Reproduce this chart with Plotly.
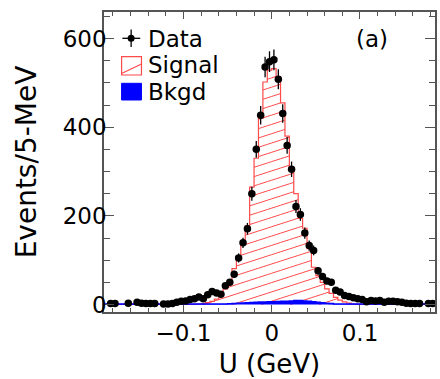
import math
import plotly.graph_objects as go

# ---------------- data ----------------
BIN_WIDTH = 0.005
U_FIRST_CENTER = -0.1875
N_BINS = 75
U_CENTERS = [round(U_FIRST_CENTER + i * BIN_WIDTH, 4) for i in range(N_BINS)]

DATA_COUNTS = [
    None, 2, 2, None, None, 3, None, 5, 3, 2,
    2, 2, None, 1, 1, 2, 5, 7, 8, 11,
    13, 17, 13, 22, 29, 26, 23, 42, 50, 68,
    105, 139, 171, 250, 350, 427, 536, 548, 552, 508,
    431, 359, 305, 221, 203, 161, 133, 122, 76, 63,
    53, 50, 32, 28, 20, 18, 15, 13, 11, 6,
    9, 8, 9, 5, 7, 7, 6, 5, 3, 2,
    2, 2, None, 2, 2,
]

SIGNAL_COUNTS = [
    0, 0, 0, 0, 0, 0, 0, 0, 0, 0,
    0, 0, 0, 0, 0, 0, 0, 0, 0, 0,
    0, 1, 2, 4, 7, 12, 20, 35, 54, 81,
    107, 141, 178, 265, 330, 420, 502, 529, 532, 514,
    455, 380, 303, 250, 194, 172, 126, 84, 65, 50,
    35, 25, 16, 10, 6, 3, 1, 0, 0, 0,
    0, 0, 0, 0, 0, 0, 0, 0, 0, 0,
    0, 0, 0, 0, 0,
]

BKGD_COUNTS = [
    1, 1, 1, 1, 1, 1, 1, 1, 1, 1,
    1, 1, 1, 1, 1, 1, 1, 1, 1, 1,
    1, 1, 1, 1, 1, 1, 1, 1, 1.5, 2,
    3, 3.5, 4, 4.5, 5, 5.5, 5.5, 6, 6, 6.5,
    7, 7.5, 8, 9, 9, 8, 7, 6, 5, 4,
    3, 2, 1, 1, 1, 1, 1, 1, 1, 1,
    1, 1, 1, 1, 1, 1, 1, 1, 1, 1,
    1, 1, 1, 1, 1,
]

X_TICKS = [-0.1, 0.0, 0.1]
X_TICK_TEXT = ["\u22120.1", "0", "0.1"]
Y_TICKS = [0, 200, 400, 600]
Y_TICK_TEXT = ["0", "200", "400", "600"]

X_RANGE = [-0.19, 0.185]
Y_RANGE = [-17, 660]

# hatch style (slope in events per GeV, spacing in events)
HATCH_SLOPE = 641.0
HATCH_SPACING = 21.0

# ---------------- helpers ----------------
def bin_edges():
    return [round(c - BIN_WIDTH / 2, 5) for c in U_CENTERS] + [round(U_CENTERS[-1] + BIN_WIDTH / 2, 5)]

def step_xy(values):
    ys = list(values) + [values[-1]]
    return bin_edges(), ys

def hatch_xy(values, slope, spacing):
    edges = bin_edges()
    ymax = max(values)
    c_min = -slope * X_RANGE[1]
    c_max = ymax - slope * X_RANGE[0]
    hx, hy = [], []
    c = c_min
    while c <= c_max:
        for i, h in enumerate(values):
            if h <= 0:
                continue
            a, b = edges[i], edges[i + 1]
            lo = max(a, (0 - c) / slope)
            hi = min(b, (h - c) / slope)
            if hi > lo:
                hx += [lo, hi, None]
                hy += [slope * lo + c, slope * hi + c, None]
        c += spacing
    return hx, hy

FONT = "DejaVu Sans, Liberation Sans, Arial, sans-serif"
RED = "#ff4a4a"
BLUE = "#0000ff"

fig = go.Figure()

hx, hy = hatch_xy(SIGNAL_COUNTS, HATCH_SLOPE, HATCH_SPACING)
fig.add_trace(go.Scatter(
    x=hx, y=hy, mode="lines", line=dict(color=RED, width=1),
    showlegend=False, hoverinfo="skip", connectgaps=False,
))

sx, sy = step_xy(SIGNAL_COUNTS)
fig.add_trace(go.Scatter(
    x=sx, y=sy, mode="lines", line=dict(color=RED, width=1.2, shape="hv"),
    showlegend=False, hoverinfo="skip",
))

bx, by = step_xy(BKGD_COUNTS)
fig.add_trace(go.Scatter(
    x=bx, y=by, mode="lines", line=dict(color=BLUE, width=1.5, shape="hv"),
    fill="tozeroy", fillcolor=BLUE, showlegend=False, hoverinfo="skip",
))

xs = [u for u, n in zip(U_CENTERS, DATA_COUNTS) if n is not None]
ys = [n for n in DATA_COUNTS if n is not None]
errs = [math.sqrt(n) for n in ys]
fig.add_trace(go.Scatter(
    x=xs, y=ys, mode="markers",
    marker=dict(color="black", size=7.5, symbol="circle"),
    error_y=dict(type="data", array=errs, visible=True, color="black", thickness=1.3, width=0),
    showlegend=False,
))

# ---------------- layout ----------------
L, R, T, B = 104, 3, 12, 67
W, H = 440, 379
pw, ph = W - L - R, H - T - B

def px(x):
    return (x - L) / pw

def py(y):
    return (H - B - y) / ph

AXCOL = "#555555"
shapes = [
    # legend: Data cross
    dict(type="line", xref="paper", yref="paper", x0=px(122.5), x1=px(140.5), y0=py(38.3), y1=py(38.3), line=dict(color="black", width=1.3)),
    dict(type="line", xref="paper", yref="paper", x0=px(131.3), x1=px(131.3), y0=py(29.5), y1=py(47), line=dict(color="black", width=1.3)),
    dict(type="circle", xref="paper", yref="paper", x0=px(127.8), x1=px(134.8), y0=py(41.8), y1=py(34.8), fillcolor="black", line=dict(color="black", width=0)),
    # legend: Signal box
    dict(type="rect", xref="paper", yref="paper", x0=px(121.7), x1=px(141.7), y0=py(75), y1=py(56.7), line=dict(color=RED, width=1.2)),
    dict(type="line", xref="paper", yref="paper", x0=px(121.7), x1=px(141.7), y0=py(73.5), y1=py(64), line=dict(color=RED, width=1.2)),
    # legend: Bkgd box
    dict(type="rect", xref="paper", yref="paper", x0=px(121.7), x1=px(141.7), y0=py(100), y1=py(83.3), fillcolor=BLUE, line=dict(color=BLUE, width=1)),
]

annotations = [
    dict(text="Data", xref="paper", yref="paper", x=px(146), y=py(38.5), xanchor="left", yanchor="middle", showarrow=False, font=dict(size=23, color="black", family=FONT)),
    dict(text="Signal", xref="paper", yref="paper", x=px(146), y=py(65), xanchor="left", yanchor="middle", showarrow=False, font=dict(size=23, color="black", family=FONT)),
    dict(text="Bkgd", xref="paper", yref="paper", x=px(146), y=py(92), xanchor="left", yanchor="middle", showarrow=False, font=dict(size=23, color="black", family=FONT)),
    dict(text="(a)", xref="paper", yref="paper", x=px(374), y=py(38.5), xanchor="center", yanchor="middle", showarrow=False, font=dict(size=23, color="black", family=FONT)),
]

fig.update_layout(
    width=W, height=H,
    margin=dict(l=L, r=R, t=T, b=B, pad=0),
    paper_bgcolor="white", plot_bgcolor="white",
    font=dict(family=FONT, color="black", size=23),
    shapes=shapes, annotations=annotations,
    showlegend=False,
)
fig.update_xaxes(
    range=X_RANGE, showgrid=False, zeroline=False,
    showline=True, linecolor=AXCOL, linewidth=1.5, mirror="ticks",
    ticks="inside", ticklen=7, tickwidth=1.2, tickcolor=AXCOL,
    tickvals=X_TICKS, ticktext=X_TICK_TEXT, tickfont=dict(size=23),
    minor=dict(dtick=0.02, tick0=0, ticks="inside", ticklen=4, tickwidth=1, tickcolor=AXCOL),
    title=dict(text="U (GeV)", font=dict(size=26), standoff=9),
    ticklabelstandoff=0,
)
fig.update_yaxes(
    range=Y_RANGE, showgrid=False, zeroline=False,
    showline=True, linecolor=AXCOL, linewidth=1.5, mirror="ticks",
    ticks="inside", ticklen=10, tickwidth=1.2, tickcolor=AXCOL,
    tickvals=Y_TICKS, ticktext=Y_TICK_TEXT, tickfont=dict(size=23),
    minor=dict(dtick=50, tick0=0, ticks="inside", ticklen=6, tickwidth=1, tickcolor=AXCOL),
    title=dict(text="Events/5-MeV", font=dict(size=28), standoff=18),
    ticklabelstandoff=-9,
)

fig.write_html("out.html", config={"displayModeBar": False},
               post_script="document.body.style.margin='0';")
